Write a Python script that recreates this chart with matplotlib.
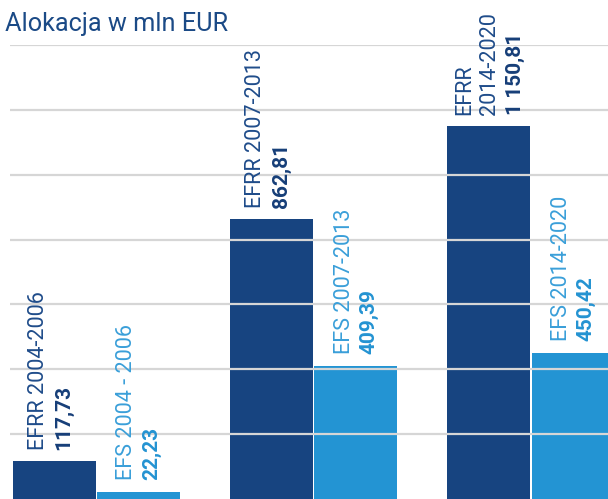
import matplotlib
matplotlib.use("Agg")
import matplotlib.pyplot as plt
import numpy as np

periods = ["2004-2006", "2007-2013", "2014-2020"]
efrr_values = [117.73, 862.81, 1150.81]
efs_values = [22.23, 409.39, 450.42]
efrr_labels = [["EFRR 2004-2006"], ["EFRR 2007-2013"], ["EFRR", "2014-2020"]]
efs_labels = [["EFS 2004 - 2006"], ["EFS 2007-2013"], ["EFS 2014-2020"]]
efrr_value_text = ["117,73", "862,81", "1 150,81"]
efs_value_text = ["22,23", "409,39", "450,42"]
title = "Alokacja w mln EUR"

DARK = "#174480"
LIGHT = "#2394d3"
DARK_TXT = "#1f4c8a"
DARK_VAL = "#163e78"
LIGHT_TXT = "#3a9fd9"
LIGHT_VAL = "#2493d2"

plt.rcParams['font.family'] = ['Roboto', 'DejaVu Sans']

W, H = 608, 499
fig = plt.figure(figsize=(W / 100, H / 100), dpi=100)
ax = fig.add_axes([10 / W, 0, 598 / W, (H - 45) / H])

spacing = 217.25
x = np.arange(len(periods))
width = 83 / spacing
off = 42.25 / spacing

ax.bar(x - off, efrr_values, width=width, color=DARK, zorder=1)
ax.bar(x + off, efs_values, width=width, color=LIGHT, zorder=1)

ax.set_xlim((10 - 96.5) / spacing, (608 - 96.5) / spacing)
ax.set_ylim(0, 1400)
ax.set_yticks(np.arange(200, 1401, 200))
ax.yaxis.grid(True, color="#d6d6d6", linewidth=1.6, zorder=2)
ax.set_axisbelow(False)
ax.tick_params(left=False, bottom=False, labelleft=False, labelbottom=False)
for s in ax.spines.values():
    s.set_visible(False)

PX = 0.72  # points per pixel
FS_LAB = 15.6
FS_VAL = 15.0


def place(xc, h, lines, val, col_lab, col_val, offsets, gap):
    items = [(t, col_lab, "normal", FS_LAB) for t in lines] + [(val, col_val, "bold", FS_VAL)]
    for (t, c, w, fs), dx in zip(items, offsets):
        ax.annotate(t, xy=(xc, h), xytext=(dx * PX, gap * PX), textcoords="offset points",
                    rotation=90, ha="center", va="bottom", color=c, fontsize=fs,
                    fontweight=w, annotation_clip=False, zorder=3)


for i in range(len(periods)):
    if len(efrr_labels[i]) == 1:
        offs = [-16, 9.5]
    else:
        offs = [-24, 1, 26.5]
    place(x[i] - off, efrr_values[i], efrr_labels[i], efrr_value_text[i], DARK_TXT, DARK_VAL, offs, 11)
    place(x[i] + off, efs_values[i], efs_labels[i], efs_value_text[i], LIGHT_TXT, LIGHT_VAL, [-12, 13], 12)

fig.text(5 / W, 1 - 24 / H, title, ha="left", va="center", fontsize=18.2, color="#1b4a86")

fig.savefig("out.png", dpi=100)
